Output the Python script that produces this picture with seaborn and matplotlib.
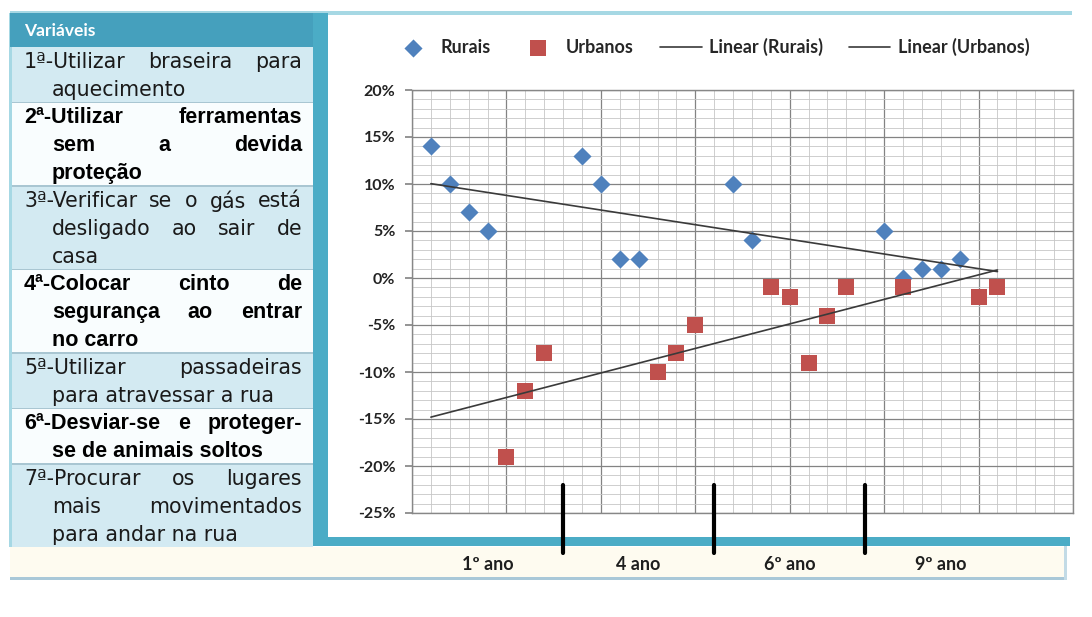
import numpy as np
import pandas as pd
import seaborn as sns
import matplotlib
matplotlib.use("Agg")
from matplotlib import pyplot as plt
from matplotlib.patches import Rectangle
from matplotlib.ticker import FuncFormatter, MultipleLocator
from matplotlib import transforms

# --- data -----------------------------------------------------------------
grades = ['1º ano', '4 ano', '6º ano', '9º ano']
slots_per_grade = 7

rurais_pos = [1, 2, 3, 4, 9, 10, 11, 12, 17, 18, 25, 26, 27, 28, 29]
rurais_val = [14, 10, 7, 5, 13, 10, 2, 2, 10, 4, 5, 0, 1, 1, 2]

urbanos_pos = [5, 6, 7, 13, 14, 15, 19, 20, 21, 22, 23, 26, 30, 31]
urbanos_val = [-19, -12, -8, -10, -8, -5, -1, -2, -9, -4, -1, -1, -2, -1]

var_lines = [
    ['1ª-Utilizar braseira para', 'aquecimento'],
    ['2ª-Utilizar ferramentas', 'sem a devida', 'proteção'],
    ['3ª-Verificar se o gás está', 'desligado ao sair de', 'casa'],
    ['4ª-Colocar cinto de', 'segurança ao entrar', 'no carro'],
    ['5ª-Utilizar passadeiras', 'para atravessar a rua'],
    ['6ª-Desviar-se e proteger-', 'se de animais soltos'],
    ['7ª-Procurar os lugares', 'mais movimentados', 'para andar na rua'],
]
var_bold = [False, True, False, True, False, True, False]

# --- figure ----------------------------------------------------------------
W, H = 1092, 617
sns.set_theme(style='white')
plt.rcParams['font.family'] = ['DejaVu Sans']

fig = plt.figure(figsize=(W / 100, H / 100), dpi=100)
renderer = fig.canvas.get_renderer()


def fx(px):
    return px / W


def fy(py):
    return 1 - py / H


def rect(x0, y0, x1, y1, color, z=-1):
    fig.add_artist(Rectangle((fx(x0), fy(y1)), fx(x1) - fx(x0), fy(y0) - fy(y1),
                             transform=fig.transFigure, facecolor=color,
                             edgecolor='none', zorder=z))


def text_line(s, x0, x1, yc, justify, **kw):
    words = s.split(' ')
    if not justify or len(words) < 2:
        fig.text(fx(x0), fy(yc), s, ha='left', va='center', **kw)
        return
    arts = [fig.text(0, fy(yc), w, ha='left', va='center', **kw) for w in words]
    ws = [a.get_window_extent(renderer).width for a in arts]
    gap = (x1 - x0 - sum(ws)) / (len(words) - 1)
    xx = x0
    for a, w in zip(arts, ws):
        a.set_x(fx(xx))
        xx += w + gap


teal = '#4bacc6'
light_blue = '#d3eaf2'

# frame pieces
rect(10, 11, 1072, 15, '#a6d8e4')
rect(9, 13, 12, 547, '#a6d8e4')
rect(10, 13, 313, 47, '#45a0bd')
rect(313, 13, 328, 546, teal)
rect(313, 537, 1070, 546, teal)
rect(10, 547, 1066, 578, '#fefbf0')
rect(10, 577, 1066, 580, '#a9c8d8')
rect(1064, 546, 1067, 580, '#c3dbe6')

fig.text(fx(24), fy(31), 'Variáveis', ha='left', va='center', color='white',
         family='Lato', fontweight='bold', fontsize=12.5)

# variables table
line_h = 27.8
top = 47
for i, (lines, bold) in enumerate(zip(var_lines, var_bold)):
    bottom = top + len(lines) * line_h
    rect(12, top, 313, bottom, light_blue if i % 2 == 0 else '#f9fdfe')
    if i > 0:
        rect(12, top - 0.8, 313, top + 0.8, '#a9c6d2', z=-0.5)
    if bold:
        kw = dict(family='Liberation Sans', fontweight='bold', fontsize=15.5, color='black')
    else:
        kw = dict(family='DejaVu Sans', fontsize=14.8, color='#1a1a1a')
    for j, s in enumerate(lines):
        yc = top + (j + 0.55) * line_h
        x0 = 24 if j == 0 else 52
        text_line(s, x0, 302, yc, justify=(j < len(lines) - 1), **kw)
    top = bottom

# --- chart -----------------------------------------------------------------
ax = fig.add_axes([fx(412), fy(513), fx(1073) - fx(412), fy(90) - fy(513)])
ax.set_facecolor('white')

x_max = len(grades) * (slots_per_grade + 1) + 3
ax.set_xlim(0, x_max)
ax.set_ylim(-25, 20)
ax.xaxis.set_major_locator(MultipleLocator(5))
ax.xaxis.set_minor_locator(MultipleLocator(1))
ax.yaxis.set_major_locator(MultipleLocator(5))
ax.yaxis.set_minor_locator(MultipleLocator(1))
ax.grid(which='minor', color='#c6c6c6', lw=0.6)
ax.grid(which='major', color='#838383', lw=0.9)
ax.set_axisbelow(True)
ax.set_xticklabels([])
ax.tick_params(axis='x', which='both', length=0)
ax.tick_params(axis='y', which='major', length=5, color='#878787', pad=7,
               labelsize=11.5, labelcolor='#222222', left=True)
ax.tick_params(axis='y', which='minor', length=0)
ax.yaxis.set_major_formatter(FuncFormatter(lambda v, p: f'{v:.0f}%'))
for lab in ax.get_yticklabels():
    lab.set_family('Lato')
    lab.set_fontweight('bold')
for sp in ax.spines.values():
    sp.set_color('#878787')
    sp.set_linewidth(1)

rur = pd.DataFrame({'pos': rurais_pos, 'val': rurais_val})
urb = pd.DataFrame({'pos': urbanos_pos, 'val': urbanos_val})

sns.scatterplot(data=rur, x='pos', y='val', marker='D', s=85, color='#4f81bd',
                linewidth=0, label='Rurais', legend=False, ax=ax, zorder=3)
sns.scatterplot(data=urb, x='pos', y='val', marker='s', s=120, color='#c0504d',
                linewidth=0, label='Urbanos', legend=False, ax=ax, zorder=3)

# linear trendlines over the full span of the variable slots
span = np.array([1, len(grades) * (slots_per_grade + 1) - 1])
for df, name in [(rur, 'Rurais'), (urb, 'Urbanos')]:
    k, b = np.polyfit(df['pos'], df['val'], 1)
    ax.plot(span, k * span + b, color='#3a3a3a', lw=1.2, zorder=4,
            label=f'Linear ({name})')

ax.set_xlabel('')
ax.set_ylabel('')

# grade separators and labels under the plot
blend = transforms.blended_transform_factory(ax.transData, fig.transFigure)
for g in range(1, len(grades)):
    ax.plot([g * (slots_per_grade + 1)] * 2, [fy(485), fy(553)], color='black',
            lw=3, transform=blend, clip_on=False, zorder=6)
for g, name in enumerate(grades):
    ax.text(g * (slots_per_grade + 1) + 4, fy(565), name, transform=blend,
            ha='center', va='center', family='Lato', fontweight='bold',
            fontsize=13, color='#1e1e1e')

handles, labels = ax.get_legend_handles_labels()
fig.legend(handles, labels, loc='center left', bbox_to_anchor=(fx(392), fy(47)),
           bbox_transform=fig.transFigure, ncol=4, frameon=False,
           borderpad=0, borderaxespad=0, handlelength=2.3, handletextpad=0.4,
           columnspacing=1.45, prop=dict(family='Lato', weight='bold', size=13))

fig.savefig('out.png', dpi=100, facecolor='white')
